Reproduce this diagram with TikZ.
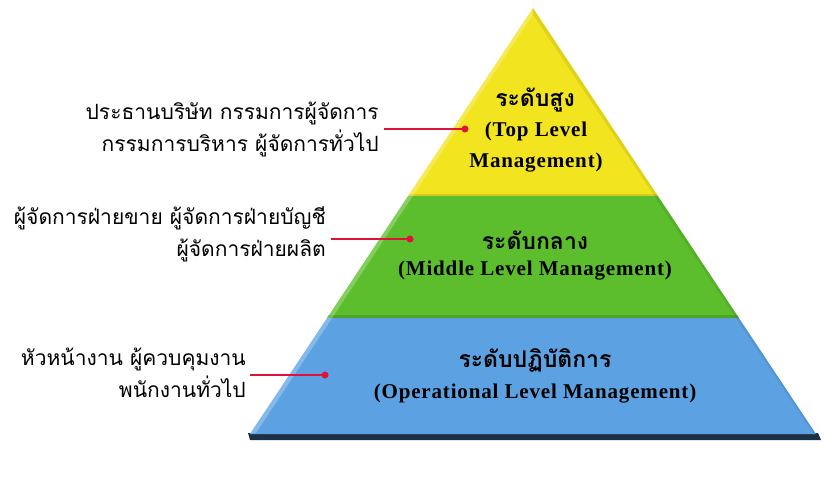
\documentclass[tikz,border=0pt]{standalone}
\usepackage{fontspec}
\newfontfamily\thai[Script=Thai]{Loma}
\newfontfamily\engb[LetterSpace=4]{Liberation Serif}
\definecolor{tyellow}{RGB}{242,228,30}
\definecolor{tgreen}{RGB}{92,190,44}
\definecolor{tblue}{RGB}{92,162,226}
\definecolor{tred}{RGB}{222,18,58}
\definecolor{tnavy}{RGB}{28,48,72}
\begin{document}
\begin{tikzpicture}[x=1pt,y=-1pt,
  side/.style={font=\thai\fontsize{21}{32}\selectfont, align=right, inner sep=0pt},
  tierth/.style={font=\thai\bfseries\fontsize{23}{28}\selectfont, inner sep=0pt},
  tieren/.style={font=\engb\bfseries\fontsize{21}{31}\selectfont, inner sep=0pt, align=center},
  conn/.style={draw=tred, line width=1.4pt},
  dotc/.style={fill=tred}]
\useasboundingbox (0,0) rectangle (826,480);
% base shadow strip
\fill[tnavy] (248,433) -- (818,433) -- (821,440) -- (250,440) -- cycle;
% tiers
\fill[tyellow] (533,8) -- (657.9,196) -- (408.1,196) -- cycle;
\fill[tgreen] (408.1,196) -- (657.9,196) -- (738.9,318) -- (327.1,318) -- cycle;
\fill[tblue] (327.1,318) -- (738.9,318) -- (816,434) -- (250,434) -- cycle;
% tier separators (darker bands)
\fill[tyellow!70!black, opacity=0.35] (409.5,194) -- (656.5,194) -- (657.9,196) -- (408.1,196) -- cycle;
\fill[tgreen!70!black, opacity=0.45] (328.5,315) -- (737.5,315) -- (738.9,318) -- (327.1,318) -- cycle;
% left highlight
\fill[white, opacity=0.25] (533,8) -- (534,13) -- (256,433) -- (250,434) -- cycle;
% right shade
\fill[black, opacity=0.08] (533,8) -- (532,13) -- (813,433) -- (816,434) -- cycle;
% tier texts
\node[tierth] (t1) at (535,100) {ระดับสูง};
\node[tieren] (e1) at (536,147) {(Top Level\\Management)};
\node[tierth] (t2) at (535,240) {ระดับกลาง};
\node[tieren] (e2) at (535,271) {(Middle Level Management)};
\node[tierth] (t3) at (535,360) {ระดับปฏิบัติการ};
\node[tieren] (e3) at (535,394) {(Operational Level Management)};
% side labels
\node[side, anchor=east] (s1) at (379,129) {ประธานบริษัท กรรมการผู้จัดการ\\กรรมการบริหาร ผู้จัดการทั่วไป};
\node[side, anchor=east] (s2) at (326,234) {ผู้จัดการฝ่ายขาย ผู้จัดการฝ่ายบัญชี\\ผู้จัดการฝ่ายผลิต};
\node[side, anchor=east] (s3) at (246,373) {หัวหน้างาน ผู้ควบคุมงาน\\พนักงานทั่วไป};
% connectors
\coordinate (a1) at (384,129);
\coordinate (b1) at (465,129);
\coordinate (a2) at (331,239);
\coordinate (b2) at (410,239);
\coordinate (a3) at (250,375);
\coordinate (b3) at (325,375);
\draw[conn] (a1) -- (b1);
\draw[conn] (a2) -- (b2);
\draw[conn] (a3) -- (b3);
\fill[dotc] (b1) circle (3.5);
\fill[dotc] (b2) circle (3.5);
\fill[dotc] (b3) circle (3.5);
\end{tikzpicture}
\end{document}
